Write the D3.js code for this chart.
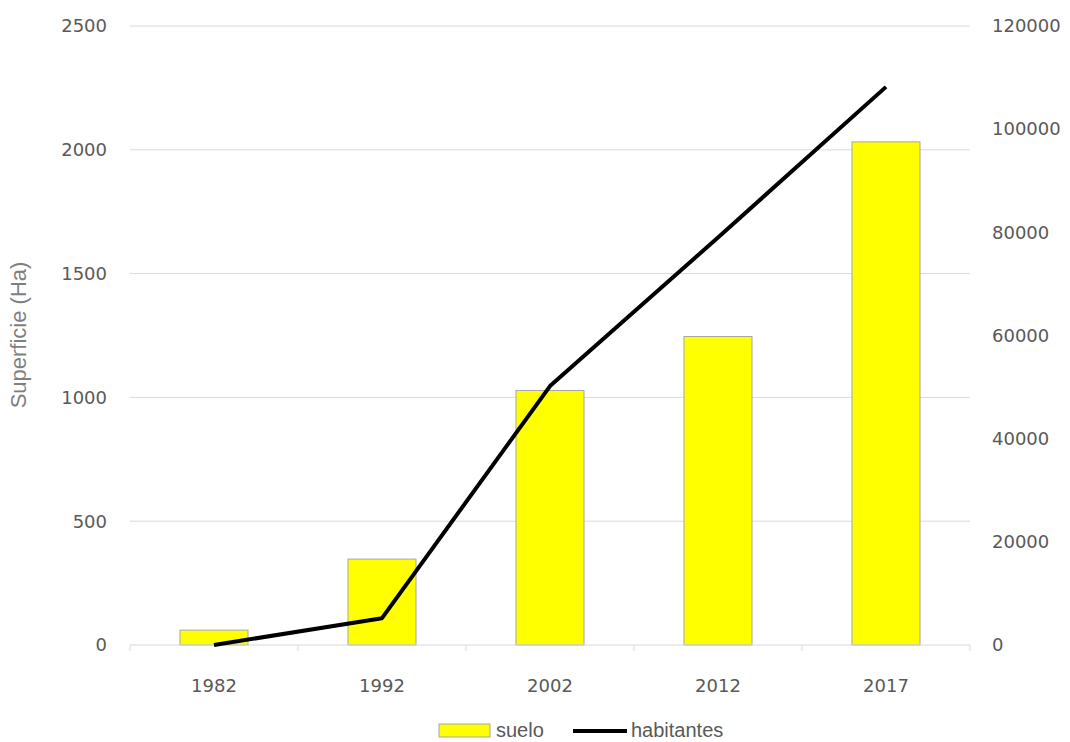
<!DOCTYPE html>
<html>
<head>
<meta charset="utf-8">
<script src="https://cdn.jsdelivr.net/npm/d3@7"></script>
<style>
  body { margin: 0; background: #fff; }
  text { font-family: 'Liberation Sans', sans-serif; }
  .num { font-family: 'DejaVu Sans', sans-serif; }
</style>
</head>
<body>
<div id="chart"></div>
<script>
// data
let years = ['1982', '1992', '2002', '2012', '2017']
let suelo = [60, 347, 1028, 1246, 2032]
let habitantes = [0, 5200, 50200, 79000, 108200]
let leftTicks = [0, 500, 1000, 1500, 2000, 2500]
let rightTicks = [0, 20000, 40000, 60000, 80000, 100000, 120000]

let margin = { top: 26, bottom: 97, left: 130, right: 100 }
let width = 1070 - margin.left - margin.right
let height = 742 - margin.top - margin.bottom

let svg = d3
  .select('#chart')
  .append('svg')
  .attr('width', 1070)
  .attr('height', 742)
  .append('g')
  .attr('transform', `translate(${margin.left},${margin.top})`)

let xPositionScale = d3.scaleBand().domain(years).range([0, width])
let yLeft = d3.scaleLinear().domain([0, 2500]).range([height, 0])
let yRight = d3.scaleLinear().domain([0, 120000]).range([height, 0])

// gridlines
svg
  .selectAll('.grid')
  .data(leftTicks.slice(1))
  .enter()
  .append('line')
  .attr('x1', 0)
  .attr('x2', width)
  .attr('y1', d => yLeft(d))
  .attr('y2', d => yLeft(d))
  .attr('stroke', '#d9d9d9')
  .attr('stroke-width', 1)

// bars
let barWidth = 68
svg
  .selectAll('.bar')
  .data(suelo)
  .enter()
  .append('rect')
  .attr('x', (d, i) => xPositionScale(years[i]) + xPositionScale.bandwidth() / 2 - barWidth / 2)
  .attr('y', d => yLeft(d))
  .attr('width', barWidth)
  .attr('height', d => height - yLeft(d))
  .attr('fill', '#ffff00')
  .attr('stroke', '#a6a6a6')
  .attr('stroke-width', 1)

// x axis line + ticks
svg
  .append('line')
  .attr('x1', 0)
  .attr('x2', width)
  .attr('y1', height)
  .attr('y2', height)
  .attr('stroke', '#d9d9d9')

svg
  .selectAll('.xtick')
  .data(years.concat(['end']))
  .enter()
  .append('line')
  .attr('x1', (d, i) => i * xPositionScale.step())
  .attr('x2', (d, i) => i * xPositionScale.step())
  .attr('y1', height)
  .attr('y2', height + 6)
  .attr('stroke', '#d9d9d9')

svg
  .selectAll('.xlabel')
  .data(years)
  .enter()
  .append('text')
  .attr('class', 'num')
  .text(d => d)
  .attr('x', d => xPositionScale(d) + xPositionScale.bandwidth() / 2)
  .attr('y', height + 47)
  .attr('text-anchor', 'middle')
  .attr('font-size', 18)
  .attr('fill', '#595959')

// line
let line = d3
  .line()
  .x((d, i) => xPositionScale(years[i]) + xPositionScale.bandwidth() / 2)
  .y(d => yRight(d))

svg
  .append('path')
  .datum(habitantes)
  .attr('d', line)
  .attr('fill', 'none')
  .attr('stroke', '#000')
  .attr('stroke-width', 4)
  .attr('stroke-linejoin', 'round')

// left axis labels
svg
  .selectAll('.ylabel')
  .data(leftTicks)
  .enter()
  .append('text')
  .attr('class', 'num')
  .text(d => d)
  .attr('x', -23)
  .attr('y', d => yLeft(d))
  .attr('dy', '0.35em')
  .attr('text-anchor', 'end')
  .attr('font-size', 18)
  .attr('fill', '#595959')

// right axis labels
svg
  .selectAll('.rlabel')
  .data(rightTicks)
  .enter()
  .append('text')
  .attr('class', 'num')
  .text(d => d)
  .attr('x', width + 22)
  .attr('y', d => yRight(d))
  .attr('dy', '0.35em')
  .attr('text-anchor', 'start')
  .attr('font-size', 18)
  .attr('fill', '#595959')

// y axis title
svg
  .append('text')
  .text('Superficie (Ha)')
  .attr('transform', `translate(${-104},${335 - margin.top}) rotate(-90)`)
  .attr('text-anchor', 'middle')
  .attr('font-size', 22)
  .attr('fill', '#7f7f7f')

// legend
let legend = svg.append('g').attr('transform', `translate(${439 - margin.left},${730 - margin.top})`)

legend
  .append('rect')
  .attr('x', 0)
  .attr('y', -6)
  .attr('width', 51)
  .attr('height', 13)
  .attr('fill', '#ffff00')
  .attr('stroke', '#a6a6a6')

legend
  .append('text')
  .text('suelo')
  .attr('x', 57)
  .attr('dy', '0.35em')
  .attr('font-size', 20)
  .attr('fill', '#595959')

legend
  .append('line')
  .attr('x1', 134)
  .attr('x2', 188)
  .attr('y1', 1)
  .attr('y2', 1)
  .attr('stroke', '#000')
  .attr('stroke-width', 4)

legend
  .append('text')
  .text('habitantes')
  .attr('x', 192)
  .attr('dy', '0.35em')
  .attr('font-size', 20)
  .attr('fill', '#595959')
</script>
</body>
</html>
